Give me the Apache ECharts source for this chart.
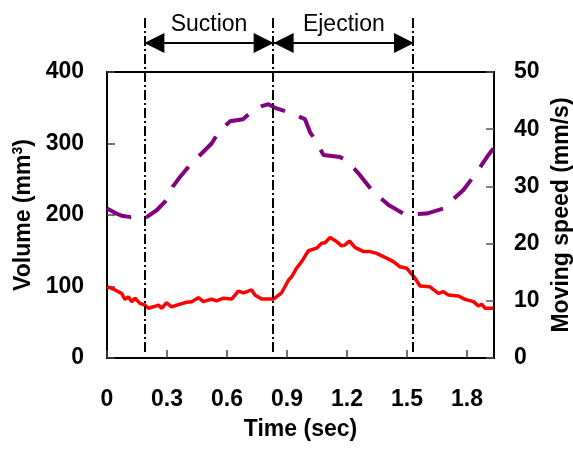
<!DOCTYPE html>
<html>
<head>
<meta charset="utf-8">
<script src="https://cdn.jsdelivr.net/npm/echarts@6/dist/echarts.min.js"></script>
<style>
  html, body { margin: 0; padding: 0; background: #fff; }
  #chart { width: 573px; height: 452px; }
</style>
</head>
<body>
<div id="chart"></div>
<script>
// Chamber volume over one pumping cycle (mm^3)
const volumeTime = [0, 0.04, 0.073, 0.118, 0.16, 0.198, 0.25, 0.298, 0.33, 0.37, 0.415, 0.473, 0.523, 0.558, 0.615, 0.68, 0.73, 0.77, 0.807, 0.848, 0.915, 0.99, 1.015, 1.048, 1.082, 1.165, 1.2, 1.258, 1.332, 1.408, 1.482, 1.532, 1.598, 1.682, 1.712, 1.782, 1.857, 1.907, 1.932];
const volumeValue = [209, 203, 199, 197, 197, 197, 207, 221, 240, 255, 270, 286, 300, 316, 331, 334, 346, 352, 355, 349, 343, 334, 316, 302, 284, 281, 276, 258, 232, 214, 202, 201, 202, 209, 217, 235, 263, 284, 293];

// Moving speed of the actuator (mm/s)
const speedTime = [0, 0.04, 0.073, 0.09, 0.107, 0.123, 0.14, 0.165, 0.19, 0.207, 0.232, 0.257, 0.273, 0.298, 0.323, 0.348, 0.398, 0.423, 0.457, 0.482, 0.523, 0.548, 0.582, 0.623, 0.657, 0.682, 0.723, 0.74, 0.773, 0.832, 0.873, 0.907, 0.923, 0.948, 0.973, 1.007, 1.048, 1.073, 1.09, 1.115, 1.148, 1.173, 1.19, 1.212, 1.24, 1.282, 1.315, 1.348, 1.398, 1.432, 1.465, 1.498, 1.54, 1.565, 1.615, 1.657, 1.682, 1.707, 1.757, 1.79, 1.832, 1.857, 1.873, 1.89, 1.932];
const speedValue = [12.46, 11.9, 11.3, 10.25, 10.7, 9.85, 10.45, 9.55, 9.25, 8.7, 8.95, 9.25, 8.7, 9.65, 8.95, 9.25, 9.75, 9.85, 10.55, 9.85, 10.3, 10.0, 10.45, 10.3, 11.7, 11.4, 11.9, 11.0, 10.3, 10.3, 11.4, 13.6, 14.2, 15.7, 16.85, 18.75, 19.2, 20.05, 20.15, 21.05, 20.35, 19.6, 19.75, 20.45, 19.35, 18.6, 18.6, 18.3, 17.45, 16.85, 15.95, 15.7, 13.95, 12.6, 12.45, 11.3, 11.6, 11.0, 10.85, 10.25, 9.85, 9.1, 9.4, 8.7, 8.7];

// Phase boundaries (sec) and phase names
const phaseBounds = [0.187, 0.833, 1.535];
const phaseNames = ['Suction', 'Ejection'];

// Axis ticks
const timeTicks = [0, 0.3, 0.6, 0.9, 1.2, 1.5, 1.8];
const timeTickLabels = ['0', '0.3', '0.6', '0.9', '1.2', '1.5', '1.8'];
const timeMax = 1.935;
const volumeMax = 400, volumeStep = 100;
const speedMax = 50, speedStep = 10;

const FONT = "'Liberation Sans', Arial, sans-serif";
const FS = 23;
const labelStyle = { color: '#000', fontFamily: FONT, fontWeight: 'bold', fontSize: FS };

function zip(xs, ys) { return xs.map((x, i) => [x, ys[i]]); }

function timeLabel(v) {
  for (let i = 0; i < timeTicks.length; i++) {
    if (Math.abs(v - timeTicks[i]) < 1e-6) return timeTickLabels[i];
  }
  return '';
}

const ARROW_LEVEL = 0.925;

const chart = echarts.init(document.getElementById('chart'), null, { renderer: 'canvas' });
chart.setOption({
  animation: false,
  backgroundColor: '#fff',
  grid: [
    { left: 107, right: 79, top: 72, bottom: 94, show: true, borderColor: '#000', borderWidth: 2,
      backgroundColor: 'transparent', containLabel: false, outerBoundsMode: 'none' },
    { left: 107, right: 79, top: 18, bottom: 100, show: false, containLabel: false, outerBoundsMode: 'none' }
  ],
  xAxis: [
    {
      type: 'value', gridIndex: 0, min: 0, max: timeMax, interval: 0.3,
      name: 'Time (sec)', nameLocation: 'middle', nameGap: 60,
      nameTextStyle: labelStyle,
      axisLine: { show: true, lineStyle: { color: '#000', width: 2 } },
      axisTick: { show: true, inside: true, length: 8, lineStyle: { color: '#444', width: 1.5 } },
      axisLabel: Object.assign({ margin: 30, formatter: timeLabel, showMaxLabel: false }, labelStyle),
      splitLine: { show: false }
    },
    {
      type: 'value', gridIndex: 1, min: 0, max: timeMax,
      show: false
    }
  ],
  yAxis: [
    {
      type: 'value', gridIndex: 0, min: 0, max: volumeMax, interval: volumeStep, position: 'left',
      name: 'Volume (mm{sup|3})', nameLocation: 'middle', nameGap: 56, nameRotate: 90,
      nameTextStyle: Object.assign({
        rich: { sup: { fontFamily: FONT, fontWeight: 'bold', fontSize: 14, verticalAlign: 'top', color: '#000', padding: [0, 0, 10, 0] } }
      }, labelStyle),
      axisLine: { show: true, lineStyle: { color: '#000', width: 2 } },
      axisTick: { show: true, inside: true, length: 8, lineStyle: { color: '#444', width: 1.5 } },
      axisLabel: Object.assign({ margin: 23 }, labelStyle),
      splitLine: { show: false }
    },
    {
      type: 'value', gridIndex: 0, min: 0, max: speedMax, interval: speedStep, position: 'right',
      name: 'Moving speed (mm/s)', nameLocation: 'middle', nameGap: 53, nameRotate: 90,
      nameTextStyle: labelStyle,
      axisLine: { show: true, lineStyle: { color: '#000', width: 2 } },
      axisTick: { show: true, inside: true, length: 8, lineStyle: { color: '#555', width: 1.5 } },
      axisLabel: Object.assign({ margin: 20 }, labelStyle),
      splitLine: { show: false }
    },
    {
      type: 'value', gridIndex: 1, min: 0, max: 1, show: false
    }
  ],
  series: [
    {
      name: 'Volume', type: 'line', xAxisIndex: 0, yAxisIndex: 0,
      data: zip(volumeTime, volumeValue),
      showSymbol: false, smooth: false,
      lineStyle: { color: '#800080', width: 4, type: [26, 15], cap: 'butt' },
      z: 3
    },
    {
      name: 'Moving speed', type: 'line', xAxisIndex: 0, yAxisIndex: 1,
      data: zip(speedTime, speedValue),
      showSymbol: false, smooth: false,
      lineStyle: { color: '#ff0000', width: 3.5 },
      z: 3
    },
    {
      // phase boundary lines
      name: 'bounds', type: 'line', xAxisIndex: 1, yAxisIndex: 2,
      data: [], showSymbol: false, silent: true,
      lineStyle: { width: 0 },
      markLine: {
        silent: true, symbol: ['none', 'none'], label: { show: false },
        lineStyle: { color: '#000', width: 2, type: [10, 3, 2, 3] },
        emphasis: { disabled: true },
        data: phaseBounds.map(t => ({ xAxis: t }))
      },
      z: 4
    },
    {
      // phase arrows with names
      name: 'phases', type: 'line', xAxisIndex: 1, yAxisIndex: 2,
      data: [], showSymbol: false, silent: true,
      lineStyle: { width: 0 },
      markLine: {
        silent: true, symbol: ['triangle', 'triangle'], symbolSize: [20, 20],
        symbolOffset: [[0, 10], [0, 10]],
        lineStyle: { color: '#000', width: 2, type: 'solid' },
        itemStyle: { color: '#000' },
        emphasis: { disabled: true },
        label: { show: true, position: 'insideMiddleTop', formatter: '{b}', distance: 7,
                 color: '#000', fontFamily: FONT, fontSize: FS },
        data: phaseNames.map((n, i) => [
          { name: n, coord: [phaseBounds[i], ARROW_LEVEL] },
          { coord: [phaseBounds[i + 1], ARROW_LEVEL] }
        ])
      },
      z: 4
    }
  ]
});
</script>
</body>
</html>
